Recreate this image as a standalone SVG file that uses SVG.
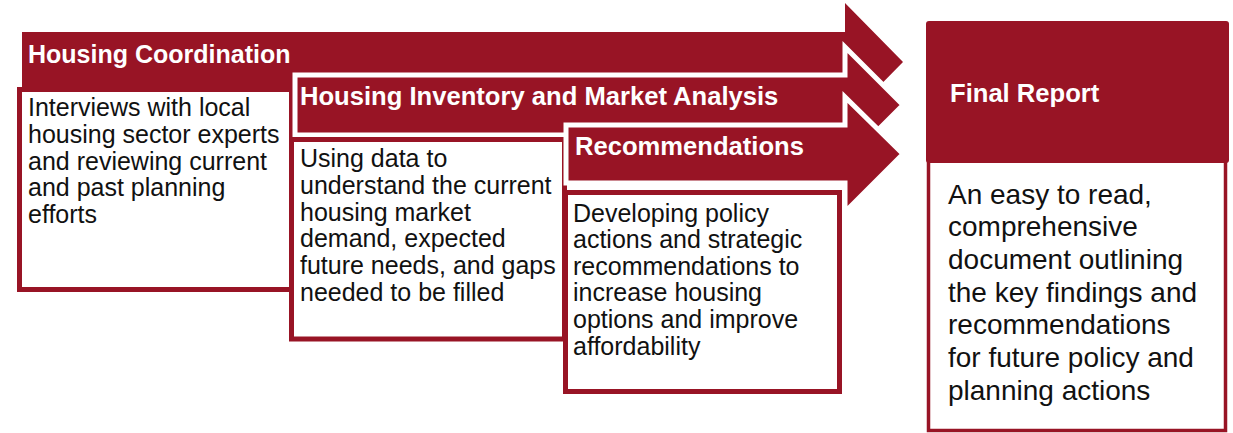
<svg xmlns="http://www.w3.org/2000/svg" width="1233" height="433" viewBox="0 0 1233 433">
<style>
.arrow{fill:#981425}
.arrow.o{stroke:#ffffff;stroke-width:5;stroke-linejoin:miter}
.box{fill:#ffffff;stroke:#981425;stroke-width:5}
.hd{font-family:"Liberation Sans",Arial,sans-serif;font-weight:bold;font-size:25.6px;fill:#ffffff}
.tx{font-family:"Liberation Sans",Arial,sans-serif;font-size:25px;fill:#111111}
.fx{font-family:"Liberation Sans",Arial,sans-serif;font-size:28px;fill:#111111}
</style>
<rect width="1233" height="433" fill="#ffffff"/>
<g id="connectors"></g>
<g id="housing-coordination">
<polygon class="arrow" points="22,32 845,32 845,3 903,62 845,121 845,90 22,90"/>
<text class="hd" x="28" y="63" style="font-size:25px">Housing Coordination</text>
<rect class="box" x="19.5" y="89.5" width="272" height="200"/>
<text class="tx" x="28"><tspan x="28" y="116">Interviews with local</tspan><tspan x="28" y="143">housing sector experts</tspan><tspan x="28" y="169.5">and reviewing current</tspan><tspan x="28" y="196">and past planning</tspan><tspan x="28" y="223">efforts</tspan></text>
</g>
<g id="housing-inventory">
<polygon class="arrow o" points="295,75 845,75 845,47 903,105 845,163 845,135 295,135"/>
<text class="hd" x="300" y="105">Housing Inventory and Market Analysis</text>
<rect class="box" x="291.5" y="139.5" width="273" height="199.5"/>
<text class="tx"><tspan x="300" y="167">Using data to</tspan><tspan x="300" y="194">understand the current</tspan><tspan x="300" y="220.5">housing market</tspan><tspan x="300" y="247">demand, expected</tspan><tspan x="300" y="274">future needs, and gaps</tspan><tspan x="300" y="301">needed to be filled</tspan></text>
</g>
<g id="recommendations">
<polygon class="arrow o" points="566,125 845,125 845,97 903,154 845,212 845,183 566,183"/>
<text class="hd" x="575" y="155">Recommendations</text>
<rect class="box" x="565.5" y="192.5" width="274" height="199"/>
<text class="tx"><tspan x="573" y="222">Developing policy</tspan><tspan x="573" y="248">actions and strategic</tspan><tspan x="573" y="275">recommendations to</tspan><tspan x="573" y="301">increase housing</tspan><tspan x="573" y="328">options and improve</tspan><tspan x="573" y="355">affordability</tspan></text>
</g>
<g id="final-report">
<rect x="928.5" y="150" width="297" height="280.5" fill="#ffffff" stroke="#981425" stroke-width="3.5"/>
<rect x="926" y="21" width="303" height="142" rx="3" fill="#981425"/>
<text class="hd" x="950" y="102">Final Report</text>
<text class="fx"><tspan x="948" y="203.5">An easy to read,</tspan><tspan x="948" y="236">comprehensive</tspan><tspan x="948" y="269">document outlining</tspan><tspan x="948" y="301.5">the key findings and</tspan><tspan x="948" y="334">recommendations</tspan><tspan x="948" y="367">for future policy and</tspan><tspan x="948" y="399.5">planning actions</tspan></text>
</g>
</svg>
